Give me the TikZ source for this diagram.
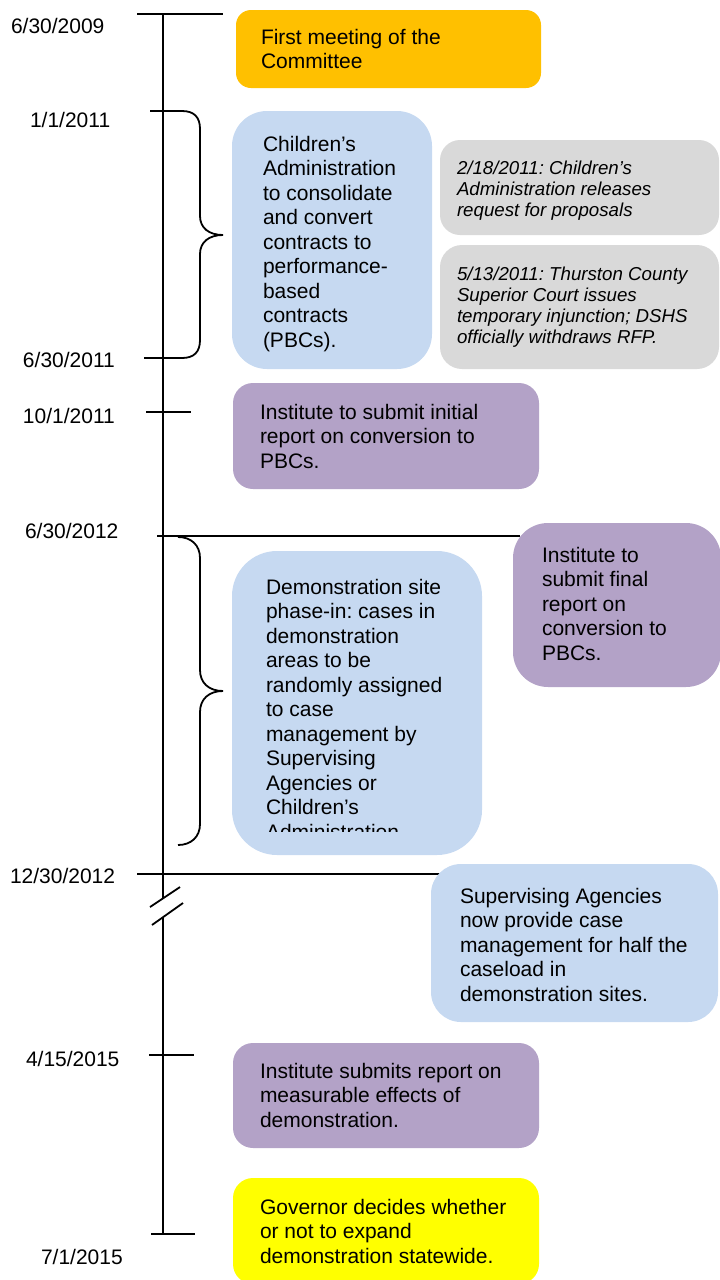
\documentclass[tikz,border=0pt]{standalone}
\usepackage{fontspec}
\setmainfont{Liberation Sans}
\frenchspacing
\definecolor{orangeC}{HTML}{FFC000}
\definecolor{blueC}{HTML}{C6D9F1}
\definecolor{grayC}{HTML}{D9D9D9}
\definecolor{purpleC}{HTML}{B3A2C7}
\definecolor{yellowC}{HTML}{FFFF00}
\newcommand\tlines[1]{\begin{tabular}[t]{@{}l@{}}#1\end{tabular}}
\begin{document}
\begin{tikzpicture}[x=1pt,y=-1pt,
  tl/.style={line width=1.8pt, black},
  boxshape/.style={draw=none, rectangle, anchor=north west, inner sep=0pt, outer sep=0pt},
  txt/.style={anchor=base west, inner sep=0pt, outer sep=0pt, font=\frenchspacing\fontsize{21}{24.5}\selectfont},
  itxt/.style={anchor=base west, inner sep=0pt, outer sep=0pt, font=\frenchspacing\fontsize{18.7}{21.3}\selectfont\itshape},
  datelbl/.style={anchor=base west, inner sep=0pt, outer sep=0pt, font=\fontsize{21}{24.5}\selectfont}]
\useasboundingbox (0,0) rectangle (720,1280);

% timeline coordinates
\coordinate (top) at (163,14);
\coordinate (breakA) at (163,898);
\coordinate (breakB) at (163,917);
\coordinate (bot) at (163,1234);

% timeline
\draw[tl] (top) -- (breakA);
\draw[tl] (breakB) -- (bot);
\coordinate (sA1) at (150,907); \coordinate (sA2) at (180,887);
\coordinate (sB1) at (152,925); \coordinate (sB2) at (183,903);
\draw[tl] (sA1) -- (sA2);
\draw[tl] (sB1) -- (sB2);

% ticks
\coordinate (t0a) at (137,14); \coordinate (t0b) at (223,14);
\draw[tl] (t0a) -- (t0b);
\coordinate (t1a) at (150,111); \coordinate (t1b) at (144,358);
\draw[tl] (t1a) -- (182,111) .. controls (194,111) and (200,117) .. (200,129)
  -- (200,216) .. controls (200,228) and (209,235) .. (223,235)
  .. controls (209,235) and (200,242) .. (200,254)
  -- (200,340) .. controls (200,352) and (194,358) .. (182,358) -- (t1b);
\coordinate (t2a) at (146,412); \coordinate (t2b) at (191,412);
\draw[tl] (t2a) -- (t2b);
\coordinate (t3a) at (157,536); \coordinate (t3b) at (520,536);
\draw[tl] (t3a) -- (t3b);
\draw[tl] (178,537) .. controls (191,537) and (200,545) .. (200,558)
  -- (200,670) .. controls (200,683) and (209,691) .. (223,691)
  .. controls (209,691) and (200,699) .. (200,712)
  -- (200,824) .. controls (200,837) and (191,845) .. (178,845);
\coordinate (t4a) at (137,874); \coordinate (t4b) at (440,874);
\draw[tl] (t4a) -- (t4b);
\coordinate (t5a) at (149,1055); \coordinate (t5b) at (194,1055);
\draw[tl] (t5a) -- (t5b);
\coordinate (t6a) at (151,1234); \coordinate (t6b) at (195,1234);
\draw[tl] (t6a) -- (t6b);

% dates
\node[datelbl] (d1) at (11,33) {6/30/2009};
\node[datelbl] (d2) at (30,127) {1/1/2011};
\node[datelbl] (d3) at (23,367) {6/30/2011};
\node[datelbl] (d4) at (23,423) {10/1/2011};
\node[datelbl] (d5) at (25,538) {6/30/2012};
\node[datelbl] (d6) at (10,883) {12/30/2012};
\node[datelbl] (d7) at (26,1066) {4/15/2015};
\node[datelbl] (d8) at (41,1264) {7/1/2015};

% boxes
\node[boxshape, fill=orangeC, rounded corners=15pt, minimum width=305pt, minimum height=78pt] (b1) at (236,10) {};
\node[boxshape, fill=blueC, rounded corners=35pt, minimum width=200pt, minimum height=258pt] (b2) at (232,111) {};
\node[boxshape, fill=grayC, rounded corners=20pt, minimum width=279pt, minimum height=95pt] (b3) at (440,140) {};
\node[boxshape, fill=grayC, rounded corners=22pt, minimum width=279pt, minimum height=124pt] (b4) at (440,245) {};
\node[boxshape, fill=purpleC, rounded corners=20pt, minimum width=306pt, minimum height=106pt] (b5) at (233,383) {};
\node[boxshape, fill=purpleC, rounded corners=35pt, minimum width=208pt, minimum height=164pt] (b6) at (513,523) {};
\node[boxshape, fill=blueC, rounded corners=45pt, minimum width=250pt, minimum height=304pt] (b7) at (232,551) {};
\node[boxshape, fill=blueC, rounded corners=30pt, minimum width=287pt, minimum height=158pt] (b8) at (431,864) {};
\node[boxshape, fill=purpleC, rounded corners=20pt, minimum width=306pt, minimum height=105pt] (b9) at (233,1043) {};
\node[boxshape, fill=yellowC, rounded corners=20pt, minimum width=306pt, minimum height=106pt] (b10) at (233,1178) {};

% texts
\node[txt] (x1) at (261,44) {\tlines{First meeting of the\\Committee}};
\node[txt] (x2) at (263,151) {\tlines{Children’s\\Administration\\to consolidate\\and convert\\contracts to\\performance-\\based\\contracts\\(PBCs).}};
\node[itxt] (x3) at (457,174) {\tlines{2/18/2011: Children’s\\Administration releases\\request for proposals}};
\node[itxt] (x4) at (457,280) {\tlines{5/13/2011: Thurston County\\Superior Court issues\\temporary injunction; DSHS\\officially withdraws RFP.}};
\node[txt] (x5) at (260,419) {\tlines{Institute to submit initial\\report on conversion to\\PBCs.}};
\node[txt] (x6) at (542,562) {\tlines{Institute to\\submit final\\report on\\conversion to\\PBCs.}};
\begin{scope}
\clip (232,551) rectangle (482,831);
\node[txt] (x7) at (266,594) {\tlines{Demonstration site\\phase-in: cases in\\demonstration\\areas to be\\randomly assigned\\to case\\management by\\Supervising\\Agencies or\\Children’s\\Administration}};
\end{scope}
\node[txt] (x8) at (460,903) {\tlines{Supervising Agencies\\now provide case\\management for half the\\caseload in\\demonstration sites.}};
\node[txt] (x9) at (260,1078) {\tlines{Institute submits report on\\measurable effects of\\demonstration.}};
\node[txt] (x10) at (260,1214) {\tlines{Governor decides whether\\or not to expand\\demonstration statewide.}};
\end{tikzpicture}
\end{document}
